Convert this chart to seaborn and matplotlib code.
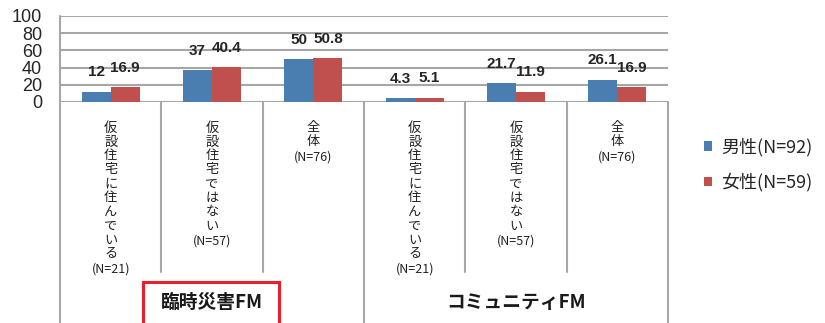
import pandas as pd
import matplotlib.pyplot as plt
from matplotlib.patches import Rectangle
import seaborn as sns

# データ
groups = ['臨時災害FM', 'コミュニティFM']
sub_labels = ['仮設住宅に住んでいる', '仮設住宅ではない', '全体']
sub_n = ['(N=21)', '(N=57)', '(N=76)']
series = ['男性(N=92)', '女性(N=59)']
male = [12, 37, 50, 4.3, 21.7, 26.1]
female = [16.9, 40.4, 50.8, 5.1, 11.9, 16.9]

cats = [g + '/' + s for g in groups for s in sub_labels]
df = pd.DataFrame({
    'cat': cats * 2,
    'sex': [series[0]] * 6 + [series[1]] * 6,
    'value': male + female,
})

sns.set_style('white')
plt.rcParams['font.family'] = ['Noto Sans CJK JP', 'DejaVu Sans']

W, H = 825, 323
fig = plt.figure(figsize=(W / 100, H / 100), dpi=100)
ax = fig.add_axes([60 / W, (H - 102) / H, 608 / W, 86 / H])

sns.barplot(data=df, x='cat', y='value', hue='sex', order=cats, hue_order=series,
            palette=['#4A7EB0', '#C0504D'], width=0.575, saturation=1,
            linewidth=0, edgecolor='none', ax=ax)

handles, labels = ax.get_legend_handles_labels()
ax.get_legend().remove()

for c in ax.containers:
    ax.bar_label(c, fmt='%g', padding=9, fontsize=11, fontweight='bold',
                 family='Liberation Sans')

ax.set_ylim(0, 100)
ax.set_xlim(-0.5, 5.5)
ax.set_yticks(range(0, 101, 20))
ax.set_xticks([])
ax.set_xlabel('')
ax.set_ylabel('')
for s in ax.spines.values():
    s.set_visible(False)
ax.yaxis.grid(True, color='#A6A6A6', lw=1.5)
ax.set_axisbelow(True)
ax.tick_params(axis='y', length=0, pad=13, labelsize=13)
for t in ax.get_yticklabels():
    t.set_family('Liberation Sans')


def ax_y(py):
    # pixel row -> axes fraction
    return (102 - py) / 86


def px_x(px):
    return (px - 60) / 608 * 6 - 0.5


tr = ax.get_xaxis_transform()
line_kw = dict(color='#A6A6A6', lw=1.5, transform=tr, clip_on=False)
ax.plot([-0.5, -0.5], [1, ax_y(330)], **line_kw)
for x in [0.5, 1.5, 3.5, 4.5]:
    ax.plot([x, x], [0, ax_y(272)], **line_kw)
for x in [2.5, 5.5]:
    ax.plot([x, x], [0, ax_y(330)], **line_kw)

# カテゴリ名（縦書き）
for i, cat in enumerate(cats):
    k = i % 3
    chars = list(sub_labels[k])
    for j, ch in enumerate(chars):
        ax.annotate(ch, xy=(i, 0), xycoords=tr, xytext=(0, -(26 + j * 14) * 0.72),
                    textcoords='offset points', ha='center', va='center',
                    fontsize=9.5, color='#222222')
    ax.annotate(sub_n[k], xy=(i, 0), xycoords=tr,
                xytext=(0, -(26 + (len(chars) - 1) * 14 + 15) * 0.72),
                textcoords='offset points', ha='center', va='center',
                fontsize=9, color='#222222')

# グループ名
for g, name in enumerate(groups):
    ax.text(1 + 3 * g, ax_y(302), name, transform=tr, ha='center', va='center',
            fontsize=13.5, fontweight='bold', color='#1a1a1a')
ax.add_patch(Rectangle((px_x(143), ax_y(335)), px_x(279) - px_x(143),
                       ax_y(282) - ax_y(335), transform=tr, fill=False,
                       ec='#E8202A', lw=2.2, clip_on=False))

fig.legend(handles, labels, loc='center left', bbox_to_anchor=(704 / W, (H - 165) / H),
           frameon=False, fontsize=13, borderpad=0, borderaxespad=0,
           handlelength=0.45, handleheight=0.45, handletextpad=0.5, labelspacing=0.9)

fig.savefig('out.png', dpi=100)
